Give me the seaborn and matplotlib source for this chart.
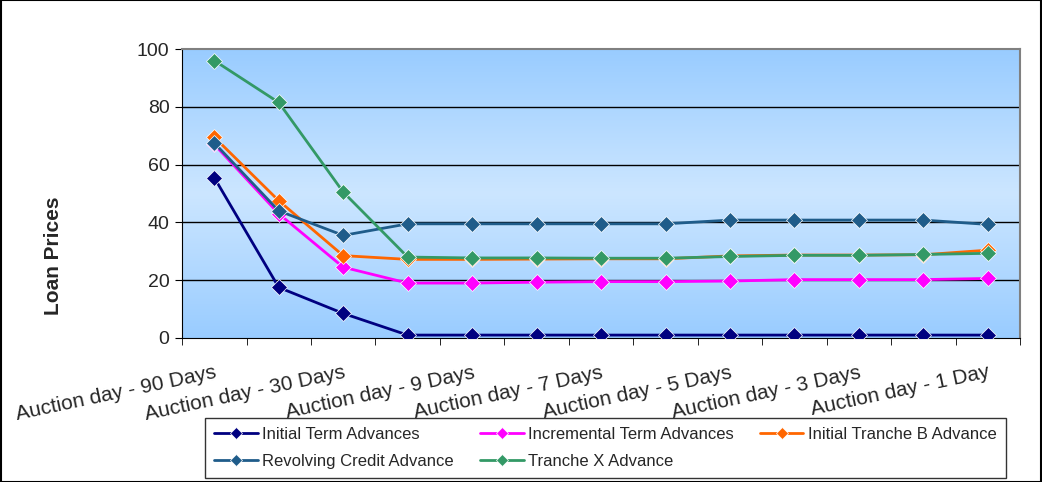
import numpy as np
import pandas as pd
import matplotlib
matplotlib.use("Agg")
import matplotlib.pyplot as plt
import seaborn as sns
from matplotlib.colors import LinearSegmentedColormap

# ------------------------------------------------------------
# Dados
# ------------------------------------------------------------
categories = ["Auction day - 90 Days", "Auction day - 60 Days", "Auction day - 30 Days",
              "Auction day - 10 Days", "Auction day - 9 Days", "Auction day - 8 Days",
              "Auction day - 7 Days", "Auction day - 6 Days", "Auction day - 5 Days",
              "Auction day - 4 Days", "Auction day - 3 Days", "Auction day - 2 Days",
              "Auction day - 1 Day"]

initial_term = [55.5, 17.5, 8.5, 1, 1, 1, 1, 1, 1, 1, 1, 1, 1]
incremental_term = [67, 43, 24.5, 19, 19, 19.3, 19.5, 19.5, 19.7, 20.2, 20.2, 20.2, 20.6]
initial_tranche_b = [69.5, 47.5, 28.5, 27.2, 27.2, 27.3, 27.4, 27.4, 28.4, 28.7, 28.7, 28.8, 30.4]
revolving_credit = [67.5, 44, 35.5, 39.5, 39.5, 39.5, 39.5, 39.5, 40.8, 40.8, 40.8, 40.8, 39.3]
tranche_x = [96, 81.5, 50.5, 28, 27.7, 27.7, 27.6, 27.6, 28.2, 28.6, 28.6, 28.9, 29.3]

series_names = ["Initial Term Advances", "Incremental Term Advances",
                "Initial Tranche B Advance", "Revolving Credit Advance",
                "Tranche X Advance"]
colors = ["#000080", "#FF00FF", "#FF6600", "#1F5C8A", "#339966"]

df = pd.DataFrame({
    "pos": list(range(len(categories))) * 5,
    "value": initial_term + incremental_term + initial_tranche_b + revolving_credit + tranche_x,
    "series": np.repeat(series_names, len(categories)),
})

# ------------------------------------------------------------
# Figura
# ------------------------------------------------------------
sns.set_style("white")
plt.rcParams["font.family"] = ["Liberation Sans", "DejaVu Sans"]

fig = plt.figure(figsize=(10.42, 4.82), dpi=100)
ax = fig.add_axes([0.1747, 0.2988, 0.8043, 0.5995])

# fundo em degradê azul
grad = LinearSegmentedColormap.from_list("bg", ["#99CCFF", "#CCE6FF", "#99CCFF"])
ax.imshow(np.linspace(0, 1, 256).reshape(-1, 1), cmap=grad, aspect="auto",
          extent=[-0.5, 12.5, 0, 100], zorder=0)

for y in [20, 40, 60, 80]:
    ax.axhline(y, color="black", lw=1, zorder=1)

sns.lineplot(data=df, x="pos", y="value", hue="series", style="series",
             hue_order=series_names, palette=colors, markers=["D"] * 5,
             dashes=False, markersize=8.5, markeredgewidth=0.5, linewidth=2,
             sort=False, ax=ax, zorder=3)

ax.set_xlim(-0.5, 12.5)
ax.set_ylim(0, 100)
ax.set_yticks([0, 20, 40, 60, 80, 100])
ax.tick_params(axis="y", labelsize=14, length=5, direction="out", left=True,
               color="black", pad=4)

ax.set_xticks(range(0, 13, 2))
ax.set_xticklabels([categories[i] for i in range(0, 13, 2)], rotation=12,
                   ha="right", rotation_mode="anchor", fontsize=15)
ax.set_xticks(np.arange(-0.5, 13, 1), minor=True)
ax.tick_params(axis="x", which="major", length=0, pad=18)
ax.tick_params(axis="x", which="minor", length=5, direction="out", bottom=True, color="black")

ax.set_xlabel("")
ax.set_ylabel("Loan Prices", fontsize=15, fontweight="bold")
ax.yaxis.set_label_coords(-0.142, 0.285)

for side in ["left", "bottom"]:
    ax.spines[side].set_color("black")
for side in ["top", "right"]:
    ax.spines[side].set_color("#808080")
    ax.spines[side].set_linewidth(1.5)

# legenda: 3 colunas, ordem por linhas
handles, labels = ax.get_legend_handles_labels()
order = [0, 3, 1, 4, 2]
ax.get_legend().remove()
leg = fig.legend([handles[i] for i in order], [labels[i] for i in order],
                 ncol=3, loc="upper left", bbox_to_anchor=(0.197, 1 - 418 / 482),
                 fontsize=12, frameon=True, fancybox=False, edgecolor="black",
                 borderaxespad=0, handlelength=2.6, handletextpad=0.25,
                 columnspacing=1.6, labelspacing=0.7, borderpad=0.55,
                 markerscale=0.75)
leg.get_frame().set_linewidth(1)

# borda externa da figura
fig.patches.append(plt.Rectangle((0.001, 0.001), 0.998, 0.998, transform=fig.transFigure,
                                 fill=False, edgecolor="black", lw=1.5))

plt.savefig("out.png", dpi=100)
plt.close()
